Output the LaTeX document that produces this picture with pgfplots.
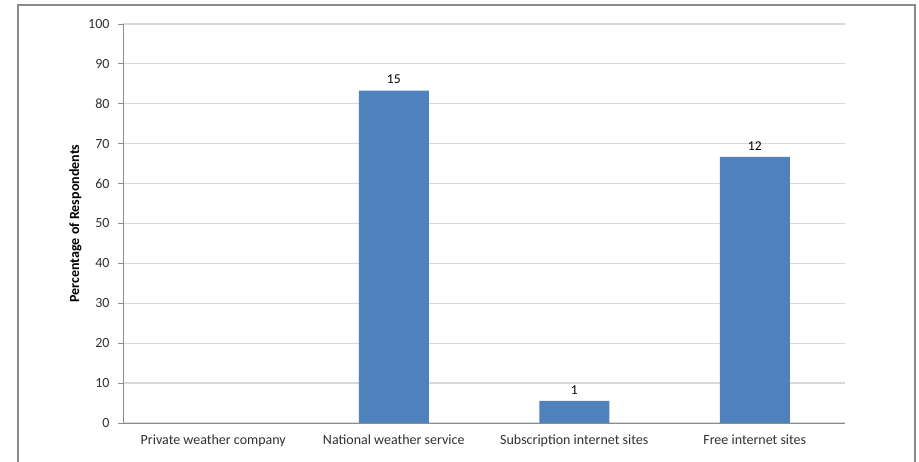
\documentclass[border=0pt]{standalone}
\usepackage{pgfplots}
\pgfplotsset{compat=1.18}
\usepackage{fontspec}
\setmainfont{Carlito}
\definecolor{barblue}{HTML}{4F81BD}
\definecolor{gridgray}{HTML}{D9D9D9}
\definecolor{axisgray}{HTML}{8C8C8C}
\definecolor{framegray}{HTML}{8A8A8A}
\definecolor{textgray}{HTML}{303030}
\begin{document}
\begin{tikzpicture}[x=1bp,y=1bp]
\useasboundingbox (0,0) rectangle (919,462);
\draw[framegray,line width=1.2bp] (18,0) -- (18,457) -- (915,457) -- (915,0);
\begin{axis}[
  at={(123bp,39bp)}, anchor=south west,
  scale only axis,
  width=722bp, height=399bp,
  xmin=-0.5, xmax=3.5, ymin=0, ymax=100,
  axis x line*=bottom, axis y line*=left,
  axis line style={axisgray, line width=0.8bp},
  ytick={0,10,...,100},
  ymajorgrids, grid style={gridgray, line width=1.2bp},
  xtick={0,1,2,3},
  xticklabels={Private weather company, National weather service, Subscription internet sites, Free internet sites},
  extra x ticks={-0.5,0.5,1.5,2.5,3.5},
  extra x tick labels={},
  extra x tick style={major tick length=5bp, tick style={axisgray}, xtick align=outside, grid=none},
  major x tick style={draw=none},
  ytick align=outside, major tick length=5bp,
  tick style={axisgray, line width=0.8bp},
  ticklabel style={font=\fontsize{14bp}{16bp}\selectfont, text=textgray},
  yticklabel style={xshift=-5bp},
  xticklabel style={yshift=-3bp},
  /pgf/number format/assume math mode=true,
  ylabel={Percentage of Respondents},
  ylabel style={at={(axis description cs:-0.066,0.5)}, anchor=center, font=\bfseries\fontsize{14bp}{16bp}\selectfont, text=black},
  ybar, bar width=70bp, bar shift=0bp,
  nodes near coords={\pgfplotspointmeta},
  point meta=explicit symbolic,
  every node near coord/.append style={font=\fontsize{13.5bp}{15bp}\selectfont, text=black, anchor=south, yshift=3bp},
]
\addplot[fill=barblue, draw=none] coordinates {
  (1,83.33) [15]
  (2,5.56) [1]
  (3,66.67) [12]
};
\end{axis}
\end{tikzpicture}
\end{document}
